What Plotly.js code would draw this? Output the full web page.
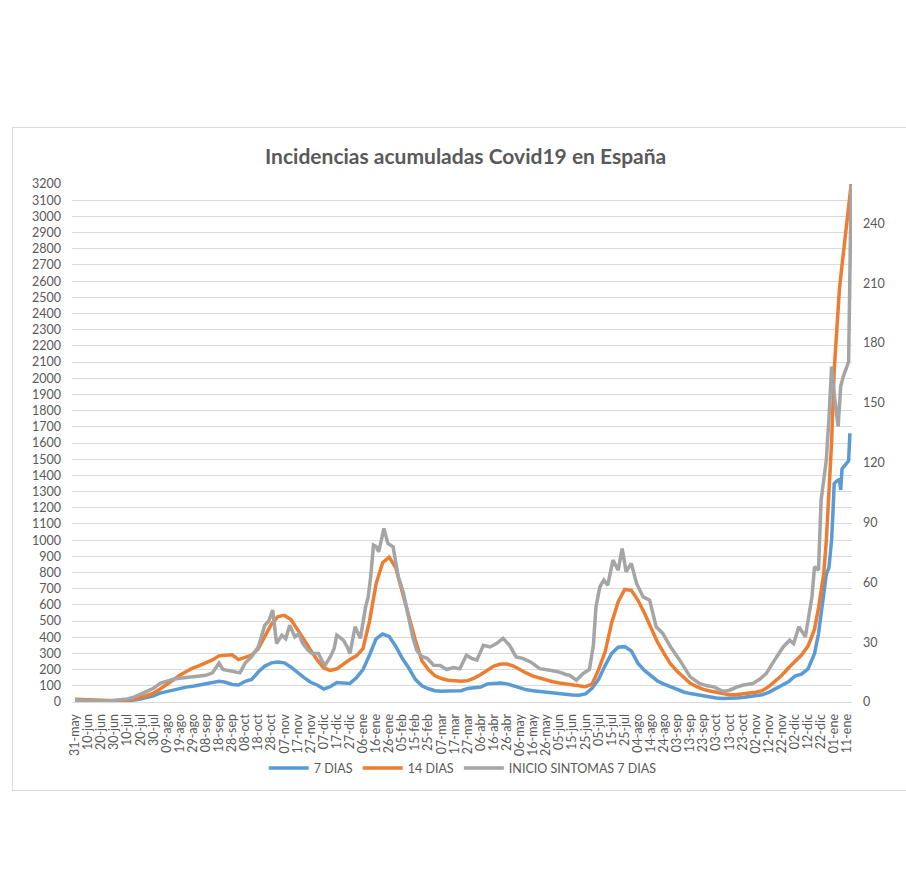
<!DOCTYPE html>
<html>
<head>
<meta charset="utf-8">
<script src="https://cdn.plot.ly/plotly-3.0.1.min.js"></script>
<style>
  html, body { margin: 0; padding: 0; background: #ffffff; }
  #frame { position: absolute; left: 12px; top: 127px; width: 900px; height: 662px; border: 1px solid #d9d9d9; }
  #chart { position: absolute; left: 0; top: 0; width: 906px; height: 885px; }
</style>
</head>
<body>
<div id="frame"></div>
<div id="chart"></div>
<script>
// Day offsets from 31-may-2020
const tickLabels = ["31-may","10-jun","20-jun","30-jun","10-jul","20-jul","30-jul","09-ago","19-ago","29-ago",
  "08-sep","18-sep","28-sep","08-oct","18-oct","28-oct","07-nov","17-nov","27-nov","07-dic",
  "17-dic","27-dic","06-ene","16-ene","26-ene","05-feb","15-feb","25-feb","07-mar","17-mar",
  "27-mar","06-abr","16-abr","26-abr","06-may","16-may","26-may","05-jun","15-jun","25-jun",
  "05-jul","15-jul","25-jul","04-ago","14-ago","24-ago","03-sep","13-sep","23-sep","03-oct",
  "13-oct","23-oct","02-nov","12-nov","22-nov","02-dic","12-dic","22-dic","01-ene","11-ene"];
const tickDays = tickLabels.map((_, i) => i * 10);

const blueDays = [0,5,10,15,20,25,30,35,40,45,50,55,60,65,70,75,80,85,90,95,100,105,110,115,120,125,130,135,140,145,
  150,155,160,165,170,175,180,185,190,195,200,205,210,215,220,225,230,235,240,245,250,255,260,265,270,275,280,285,290,295,
  300,305,310,315,320,325,330,335,340,345,350,355,360,365,370,375,380,385,390,395,400,405,410,415,420,425,430,435,440,445,
  450,455,460,465,470,475,480,485,490,495,500,505,510,515,520,525,530,535,540,545,550,555,560,565,
  568,570,572,574,576,578,579,580,582,584,585,586,588,590,591,592];
const blueVals = [7,6,5,4,4,4,5,6,8,12,18,26,38,55,65,74,84,92,97,104,110,116,128,122,108,105,128,140,185,222,
  242,247,242,215,180,150,122,105,80,95,120,118,115,150,200,290,390,420,405,345,270,210,140,100,82,70,66,68,68,70,
  84,88,92,112,115,117,112,98,85,75,70,65,62,58,55,50,44,42,50,85,140,225,300,338,342,315,240,195,160,130,
  110,93,75,62,52,44,38,32,25,21,20,24,28,35,40,45,60,80,100,125,160,172,205,300,
  420,546,700,790,830,1000,1164,1350,1365,1375,1310,1440,1460,1485,1490,1660];

const orangeDays = [0,5,10,15,20,25,30,35,40,45,50,55,60,65,70,75,80,85,90,95,100,105,110,115,120,125,130,135,140,145,
  150,155,160,165,170,175,180,185,190,195,200,205,210,215,220,225,230,235,240,245,250,255,260,265,270,275,280,285,290,295,
  300,305,310,315,320,325,330,335,340,345,350,355,360,365,370,375,380,385,390,395,400,405,410,415,420,425,430,435,440,445,
  450,455,460,465,470,475,480,485,490,495,500,505,510,515,520,525,530,535,540,545,550,555,560,565,
  568,570,572,574,576,578,580,582,584,586,588,590,592,593];
const orangeVals = [17,15,12,9,8,8,8,9,12,18,28,40,55,80,105,135,165,190,210,225,240,260,285,290,292,262,275,290,330,400,
  480,528,535,510,450,385,320,260,210,195,205,235,262,285,330,500,730,860,895,830,680,520,381,255,200,162,145,135,130,128,
  132,148,170,198,222,235,235,222,198,178,160,148,135,125,118,112,105,100,95,110,200,310,490,620,695,690,630,550,460,370,
  300,235,190,155,115,95,78,68,60,52,45,45,52,55,60,70,95,128,165,210,250,290,345,450,
  580,680,790,1000,1300,1600,2050,2350,2550,2700,2850,2990,3120,3200];

// Secondary axis series (right scale)
const grayDays = [0,5,10,15,20,25,30,35,40,45,50,55,60,65,70,75,80,85,90,95,100,105,110,113,117,122,126,130,135,140,
  145,148,151,154,158,161,164,168,171,174,178,181,186,189,191,195,198,200,203,205,208,210,214,218,222,224,226,228,230,232,
  236,239,243,245,247,251,255,258,261,265,269,274,279,284,289,294,299,303,307,312,317,322,327,332,337,342,348,355,363,370,
  375,378,383,388,393,396,398,401,404,407,411,415,418,421,425,429,434,439,444,449,455,462,470,477,483,488,495,500,505,510,
  518,523,528,532,536,541,546,549,553,558,561,563,565,568,570,574,576,578,580,583,585,587,591,593];
const grayVals = [1.0,0.8,0.7,0.5,0.5,0.5,0.7,1.0,1.5,2.4,3.9,5.3,6.9,9.3,10.4,11.4,11.9,12.2,12.6,12.8,13.4,14.6,19.5,16.3,15.8,14.8,14.6,19.5,22.7,27.6,
  38.5,40.6,46.1,29.3,33.5,31.7,38.5,32.7,34.1,29.3,26.0,24.3,24.3,20.3,18.4,22.6,26.8,33.5,32.1,31.0,27.6,24.3,37.7,31.9,47.7,52.7,63.4,78.7,78.0,75.3,
  87.0,79.5,77.8,70.7,62.8,54.4,41.8,32.5,26.0,22.8,21.9,18.4,18.3,16.3,17.3,16.7,23.5,21.9,21.0,28.4,27.6,29.3,31.9,28.4,22.6,21.9,20.1,16.7,15.9,15.0,
  13.8,13.4,10.9,14.2,16.3,28.4,47.7,57.8,61.1,58.6,71.2,66.1,77.0,65.3,69.5,59.5,52.7,51.1,37.7,34.4,27.6,21.0,12.6,9.3,8.1,7.6,5.3,5.9,7.3,8.4,
  9.3,11.4,14.2,18.7,22.6,27.6,31.0,29.3,37.7,32.7,44.4,52.8,67.8,66.1,101.2,121.4,142.2,168.2,154.4,138.1,158.4,163.3,170.6,259.4];

const leftTicks = [];
for (let v = 0; v <= 3200; v += 100) leftTicks.push(v);
const rightTicks = [0,30,60,90,120,150,180,210,240];

const txt = '#595959';
const fontFam = 'Lato, "Open Sans", sans-serif';

const traces = [
  { x: blueDays, y: blueVals, name: '7 DIAS', type: 'scatter', mode: 'lines',
    line: { color: '#5B9BD5', width: 3.5 }, yaxis: 'y' },
  { x: orangeDays, y: orangeVals, name: '14 DIAS', type: 'scatter', mode: 'lines',
    line: { color: '#ED7D31', width: 3.5 }, yaxis: 'y' },
  { x: grayDays, y: grayVals, name: 'INICIO SINTOMAS 7 DIAS', type: 'scatter', mode: 'lines',
    line: { color: '#A5A5A5', width: 3.5 }, yaxis: 'y2' }
];

const layout = {
  width: 906, height: 885,
  margin: { l: 72, r: 54, t: 184, b: 183 },
  paper_bgcolor: 'rgba(0,0,0,0)',
  plot_bgcolor: 'rgba(0,0,0,0)',
  font: { family: fontFam, color: txt, size: 12 },
  title: { text: 'Incidencias acumuladas Covid19 en España', font: { family: fontFam, size: 21, color: txt, weight: 'bold' },
    x: 0.514, xref: 'container', xanchor: 'center', y: 1 - 157/885, yref: 'container', yanchor: 'middle' },
  showlegend: true,
  legend: { orientation: 'h', x: 0.501, xanchor: 'center', y: -0.128, yanchor: 'middle',
    font: { family: fontFam, size: 12.5, color: txt }, itemwidth: 40, traceorder: 'normal' },
  xaxis: {
    type: 'linear', range: [-2.3, 593.6], tickmode: 'array', tickvals: tickDays, ticktext: tickLabels,
    tickangle: -90, showgrid: false, zeroline: false, showline: true, linecolor: '#d9d9d9', linewidth: 1,
    ticks: '', ticklabelstandoff: 6, tickfont: { family: fontFam, size: 12.5, color: txt }, fixedrange: true
  },
  yaxis: {
    range: [0, 3200], tickmode: 'array', tickvals: leftTicks, showgrid: true, gridcolor: '#d9d9d9', gridwidth: 1,
    zeroline: false, showline: false, ticks: '', ticklabelstandoff: 10,
    tickfont: { family: fontFam, size: 12.5, color: txt }, fixedrange: true
  },
  yaxis2: {
    range: [0, 259.75], overlaying: 'y', side: 'right', tickmode: 'array', tickvals: rightTicks,
    showgrid: false, zeroline: false, showline: false, ticks: '', ticklabelstandoff: 10,
    tickfont: { family: fontFam, size: 12.5, color: txt }, fixedrange: true
  }
};

Plotly.newPlot('chart', traces, layout, { displayModeBar: false, staticPlot: true });
</script>
</body>
</html>
